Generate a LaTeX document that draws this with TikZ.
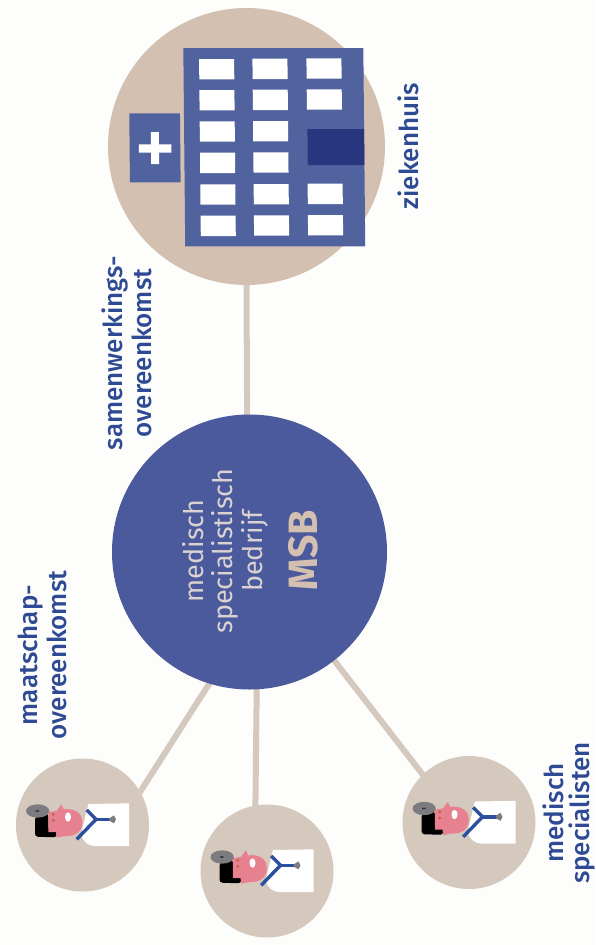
\documentclass[tikz,border=0pt]{standalone}
\usepackage{fontspec}
\setmainfont{Fira Sans}
\newfontfamily\labelfont{Fira Sans Medium}
\usetikzlibrary{backgrounds}
\definecolor{bgpale}{HTML}{FDFDFC}
\definecolor{tan1}{HTML}{D4C0B0}
\definecolor{tan2}{HTML}{D5C8BC}
\definecolor{msbblue}{HTML}{4A5A9C}
\definecolor{hospblue}{HTML}{51639F}
\definecolor{doorblue}{HTML}{27367F}
\definecolor{labelblue}{HTML}{2F4A94}
\definecolor{palet}{HTML}{DAD3D2}
\definecolor{skin}{HTML}{E8818F}
\definecolor{mirror}{HTML}{7C7B80}
\definecolor{steth}{HTML}{2C4F9F}
\definecolor{dotc}{HTML}{B8643F}
\tikzset{
  x=1pt,y=-1pt,
  disc/.style={circle,inner sep=0pt,minimum size=#1},
  link/.style={draw=tan2,line width=6pt,shorten <=-2pt,shorten >=-2pt},
  lbl/.style={rotate=90,align=center,text=labelblue,font=\labelfont\fontsize{26}{29}\selectfont,inner sep=0pt},
  inner/.style={rotate=90,align=center,text=palet,font=\fontsize{27}{29.5}\selectfont,inner sep=0pt},
}
\newcommand{\doctorfig}[1]{%
\begin{scope}[shift={(#1.center)},scale=1/3,shift={(-187.5,-135)}]
  \fill[white] (205,72) -- (327,70) -- (327,198) -- (225,198) .. controls (205,198) and (190,185) .. (183,165) -- cycle;
  \fill[black,rounded corners=3pt] (45,110) -- (45,170) -- (110,172) -- (110,150) -- (85,150) -- (85,100) -- cycle;
  \fill[mirror] (53,93) ellipse [x radius=35,y radius=20];
  \fill[black!80] (52,93) ellipse [x radius=6,y radius=2.5];
  \fill[skin] (85,97) -- (110,92) -- (124,73) -- (131,88) .. controls (160,85) and (187,95) .. (187,127)
     .. controls (187,155) and (165,170) .. (135,168) -- (110,173) -- (108,156) -- (85,156) -- cycle;
  \fill[white] (144,111) ellipse [x radius=9,y radius=14];
  \fill[dotc] (100,103) circle [radius=4.5];
  \fill[dotc] (100,121) circle [radius=4.5];
  \draw[steth,line width=3.4pt] (200,90) -- (228,118) -- (170,178);
  \draw[steth,line width=3.4pt] (228,118) -- (270,118);
  \fill[mirror] (268,115) -- (282,106) -- (288,118) -- (282,130) -- (268,122) -- cycle;
\end{scope}}
\begin{document}
\begin{tikzpicture}
  \path[use as bounding box] (0,0) rectangle (595,945);
  \begin{scope}[on background layer]
    \fill[bgpale] (0,0) rectangle (595,945);
  \end{scope}
  % discs
  \node[disc=277pt,fill=tan1] (hosp) at (246.5,146.5) {};
  \node[disc=275pt,fill=msbblue] (msb) at (249.5,552) {};
  \node[disc=133pt,fill=tan2] (docA) at (82.5,825) {};
  \node[disc=133pt,fill=tan2] (docB) at (267,871) {};
  \node[disc=133pt,fill=tan2] (docC) at (469,822.5) {};
  % connectors
  \begin{scope}[on background layer]
    \draw[link] (hosp.south) -- (msb.91);
    \draw[link] (msb.-107.7) -- (docA.30.5);
    \draw[link] (msb.-87.5) -- (docB.100);
    \draw[link] (msb.-52.1) -- (docC.134.7);
  \end{scope}
  % hospital
  \begin{scope}[shift={(100,0)},scale=1/3,xslant=-0.0096,shift={(-1.4,0)}]
    \fill[hospblue] (250,144) rectangle (790,739);
    \foreach \cx/\dy in {297/0,457/-1,619/-2}
      \foreach \ry in {177,270,364,458,553,647}
        \fill[white] (\cx,\ry+\dy) rectangle ++(105,61);
    \fill[hospblue] (600,350) rectangle (750,530);
    \fill[doorblue] (620,387) rectangle (790,495);
    \fill[hospblue] (86,340) rectangle (238,547);
    \fill[white] (114,433) rectangle ++(97,25);
    \fill[white] (150,396) rectangle ++(24,96);
  \end{scope}
  % doctors
  \doctorfig{docA}
  \doctorfig{docB}
  \doctorfig{docC}
  % labels
  \node[lbl] (lsam) at (127,353) {samenwerkings-\\overeenkomst};
  \node[lbl] (lmaa) at (42,655) {maatschap-\\overeenkomst};
  \node[lbl] (lzie) at (408,146) {ziekenhuis};
  \node[lbl,font=\labelfont\fontsize{26}{26}\selectfont] (lmed) at (569,813) {medisch\\specialisten};
  \node[inner] (lmsb) at (225,551) {medisch\\specialistisch\\bedrijf};
  \node[rotate=90,text=tan1,font=\fontsize{41}{44}\selectfont\bfseries,inner sep=0pt] (lab) at (303,550) {MSB};
\end{tikzpicture}
\end{document}
